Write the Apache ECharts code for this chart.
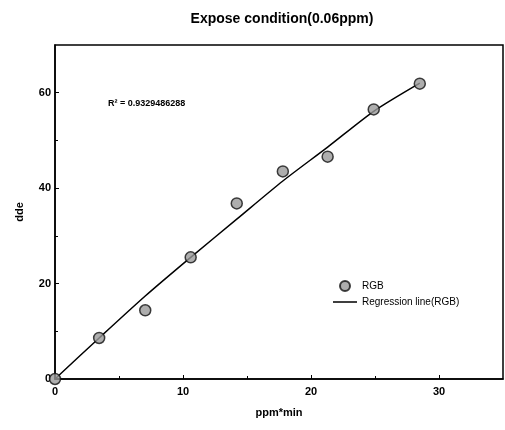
<!DOCTYPE html>
<html>
<head>
<meta charset="utf-8">
<script src="https://cdn.jsdelivr.net/npm/echarts@6/dist/echarts.min.js"></script>
<style>
    html, body { margin: 0; padding: 0; background: #fff; }
    #chart { width: 505px; height: 430px; }
</style>
</head>
<body>
<div id="chart"></div>
<script>
// measured points (ppm*min, dde)
var xValues = [0, 3.45, 7.05, 10.6, 14.2, 17.8, 21.3, 24.9, 28.5]
var rgbValues = [0, 8.6, 14.4, 25.5, 36.8, 43.5, 46.6, 56.5, 61.9]
// regression line
var lineX = [0, 3.45, 7.05, 10.6, 14.2, 17.8, 21.3, 24.9, 28.5]
var lineValues = [0, 8.6, 17.4, 25.5, 33.5, 41.5, 48.6, 56.1, 62.0]
var xTicks = [0, 10, 20, 30]
var yTicks = [0, 20, 40, 60]
var r2Text = 'R² = 0.9329486288'

window.onload = function () {
    var chart = echarts.init(document.getElementById('chart'))
    var font = 'Liberation Sans, Arial, sans-serif'

    var scatterData = xValues.map(function (x, i) { return [x, rgbValues[i]] })
    var lineData = lineX.map(function (x, i) { return [x, lineValues[i]] })

    var axisCommon = {
        axisLine: { show: true, lineStyle: { color: '#000', width: 1.5 } },
        axisTick: { show: true, inside: true, length: 4, lineStyle: { color: '#000' } },
        minorTick: { show: true, splitNumber: 2, length: 3, lineStyle: { color: '#000' } },
        splitLine: { show: false },
        axisLabel: { color: '#000', fontSize: 11, fontFamily: font, fontWeight: 'bold' },
        nameTextStyle: { color: '#000', fontSize: 11, fontFamily: font, fontWeight: 'bold' }
    }

    // thin horizontal bar inside a 24x10 box, so the legend shows a plain line
    var lineIcon = 'path://M0,4.3h24v1.4h-24z M0,0h0.01v0.01h-0.01z M0,10h0.01v-0.01h-0.01z'

    var option = {
        backgroundColor: '#fff',
        animation: false,
        title: {
            text: 'Expose condition(0.06ppm)',
            left: 277,
            textAlign: 'center',
            top: 7,
            textStyle: { color: '#000', fontSize: 14, fontWeight: 'bold', fontFamily: font }
        },
        grid: {
            left: 55, right: 2, top: 45, bottom: 51,
            show: true, borderColor: '#000', borderWidth: 1.5
        },
        legend: {
            orient: 'vertical',
            left: 328,
            top: 275,
            itemWidth: 24,
            itemHeight: 10,
            itemGap: 5,
            textStyle: { color: '#000', fontSize: 10, fontFamily: font },
            data: [
                { name: 'RGB' },
                { name: 'Regression line(RGB)', icon: lineIcon, itemStyle: { color: '#000' } }
            ]
        },
        xAxis: Object.assign({}, axisCommon, {
            type: 'value',
            min: 0, max: 35, interval: 10,
            name: 'ppm*min',
            nameLocation: 'middle',
            nameGap: 28,
            axisLabel: Object.assign({}, axisCommon.axisLabel, {
                customValues: xTicks, margin: 7
            }),
            axisTick: Object.assign({}, axisCommon.axisTick, { customValues: xTicks })
        }),
        yAxis: Object.assign({}, axisCommon, {
            type: 'value',
            min: 0, max: 70, interval: 20,
            name: 'dde',
            nameLocation: 'middle',
            nameGap: 30,
            axisLabel: Object.assign({}, axisCommon.axisLabel, {
                customValues: yTicks, margin: 4
            }),
            axisTick: Object.assign({}, axisCommon.axisTick, { customValues: yTicks })
        }),
        graphic: [{
            type: 'text',
            left: 108,
            top: 99,
            style: { text: r2Text, fill: '#000', fontSize: 9, fontWeight: 'bold', fontFamily: font }
        }],
        series: [{
            name: 'Regression line(RGB)',
            type: 'line',
            data: lineData,
            smooth: 0.25,
            symbol: 'none',
            z: 2,
            lineStyle: { color: '#000', width: 1.5 },
            itemStyle: { color: '#000' }
        }, {
            name: 'RGB',
            type: 'scatter',
            data: scatterData,
            symbol: 'circle',
            symbolSize: 11,
            z: 3,
            itemStyle: { color: '#9a9a9a', borderColor: '#111', borderWidth: 1.5 }
        }]
    }

    chart.setOption(option)
}
</script>
</body>
</html>
